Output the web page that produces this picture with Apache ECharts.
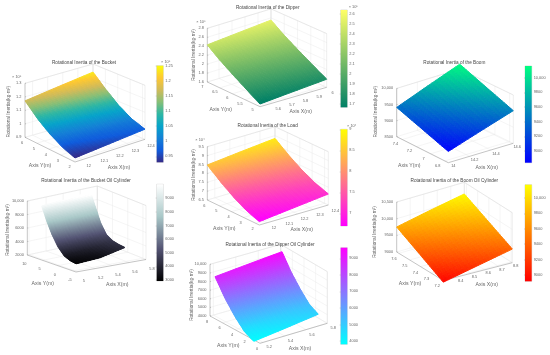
<!DOCTYPE html>
<html><head><meta charset="utf-8">
<style>html,body{margin:0;padding:0;background:#fff}#c{width:550px;height:355px;filter:blur(0.3px)}</style>
<script src="https://cdn.jsdelivr.net/npm/echarts@6/dist/echarts.min.js"></script>
</head><body><div id="c"></div>
<script>
// ---- values ----
const bucketX=[11.95,12.17,12.4], bucketY=[1.8,2.85,3.9,4.95,6];
const bucketZ=[[.93,.952,.975],[.964,.985,1.01],[1.015,1.04,1.07],[1.084,1.115,1.15],[1.17,1.205,1.24]];
const bucketXTicks=[12,12.1,12.2,12.3,12.4], bucketYTicks=[2,3,4,5,6], bucketZTicks=[.9,1,1.1,1.2,1.3];
const bucketBar=[.93,1.25], bucketBarTicks=[.95,1,1.05,1.1,1.15,1.2,1.25];

const bucketOilX=[5,5.28,5.57], bucketOilY=[-5.5,-3.5,-1.5,.5,2.5,4,5.84];
const bucketOilZ=[[3100,3350,4200],[3250,3500,4300],[3650,3850,4500],[4650,4800,5050],[6200,6350,6550],[7700,8000,8350],[9850,10100,10500]];
const bucketOilXTicks=[5,5.2,5.4,5.6,5.8], bucketOilYTicks=[-5,0,5,10], bucketOilZTicks=[2000,4000,6000,8000,10000];
const bucketOilBar=[2930,10020], bucketOilBarTicks=[3000,4000,5000,6000,7000,8000,9000];

const dipperX=[5.51,5.75,6], dipperY=[4.9,5.4,5.95,6.5,7];
const dipperZ=[[1.66,1.72,1.78],[1.83,1.89,1.95],[2.02,2.08,2.14],[2.22,2.28,2.34],[2.43,2.49,2.55]];
const dipperXTicks=[5.6,5.7,5.8,5.9,6], dipperYTicks=[5,5.5,6,6.5,7], dipperZTicks=[1.6,1.8,2,2.2,2.4,2.6,2.8];
const dipperBar=[1.667,2.64], dipperBarTicks=[1.7,1.8,1.9,2,2.1,2.2,2.3,2.4,2.5,2.6];

const loadX=[11.95,12.17,12.4], loadY=[1.7,2.8,3.85,4.9,6];
const loadZ=[[6.69,6.9,7.12],[6.98,7.19,7.4],[7.38,7.58,7.78],[7.88,8.07,8.26],[8.47,8.66,8.84]];
const loadXTicks=[12,12.1,12.2,12.3,12.4], loadYTicks=[2,3,4,5,6], loadZTicks=[6.5,7,7.5,8,8.5,9,9.5];
const loadBar=[6.7,9], loadBarTicks=[7,7.5,8,8.5,9];

const dipperOilX=[5.17,5.47,5.77], dipperOilY=[1,2.5,4,5.6,7.2];
const dipperOilZ=[[3830,4280,4770],[4380,4820,5300],[5500,5930,6400],[7000,7400,7800],[8880,9240,9570]];
const dipperOilXTicks=[5.2,5.4,5.6,5.8], dipperOilYTicks=[0,2,4,6,8], dipperOilZTicks=[4000,5000,6000,7000,8000,9000,10000];
const dipperOilBar=[3800,9640], dipperOilBarTicks=[4000,5000,6000,7000,8000,9000];

const boomX=[14,14.3,14.61], boomY=[6.75,7.115,7.48];
const boomZ=[[8850,9180,9514],[9130,9480,9830],[9410,9780,10150]];
const boomXTicks=[14,14.2,14.4,14.6], boomYTicks=[6.8,7,7.2,7.4], boomZTicks=[8500,9000,9500,10000];
const boomBar=[8840,10160], boomBarTicks=[9000,9200,9400,9600,9800,10000];

const boomOilX=[8.3,8.55,8.8], boomOilY=[7.19,7.405,7.62];
const boomOilZ=[[8950,9180,9410],[9350,9570,9780],[9750,9960,10150]];
const boomOilXTicks=[8.4,8.5,8.6,8.7,8.8], boomOilYTicks=[7.2,7.3,7.4,7.5,7.6], boomOilZTicks=[9000,9500,10000,10500];
const boomOilBar=[8920,10170], boomOilBarTicks=[9000,9200,9400,9600,9800,10000];

const parula=['#352a87','#0f5cdd','#1481d6','#06a4ca','#2eb7a4','#87bf77','#d1bb59','#fec832','#f9fb0e'];
const bone=['#000000','#545474','#a9c8c8','#ffffff'];
const summer=['#008066','#ffff66'], spring=['#ff00ff','#ffff00'], cool=['#00ffff','#ff00ff'];
const winter=['#0000ff','#00ff80'], autumn=['#ff0000','#ffff00'];

const yLabel='Rotational Inertia(kg·m²)', xName='Axis X(m)', yName='Axis Y(m)';

// ---- layout of each panel (floor corners on the page, z height in pixels, label places) ----
const panels=[
 {t:'Rotational Inertia of the Bucket',tp:[84,62.3],X:bucketX,Y:bucketY,Z:bucketZ,xt:bucketXTicks,yt:bucketYTicks,zt:bucketZTicks,bar:bucketBar,bt:bucketBarTicks,cm:parula,
  xl:[11.95,12.4],yl:[1.8,6],zl:[.9,1.3],f:[75,162],l:[25,137.3],r:[145,139.3],b:[93,118],h:54,xo:[6,6.5],yo:[-3,6],
  xn:[119,167.3],yn:[40,165.7],zn:[8.3,111.7],exp:'× 10⁵',ep:[16.7,77.3],bb:[156.7,65.7,6.6,96.6],bexp:[165.7,62.3]},
 {t:'Rotational Inertia of the Bucket Oil Cylinder',tp:[86,181],X:bucketOilX,Y:bucketOilY,Z:bucketOilZ,xt:bucketOilXTicks,yt:bucketOilYTicks,zt:bucketOilZTicks,bar:bucketOilBar,bt:bucketOilBarTicks,cm:bone,
  xl:[4.98,5.8],yl:[-6,10],zl:[2000,10000],f:[76,272],l:[27.3,255],r:[146,259.5],b:[97.3,240],h:54,xo:[6,9],yo:[-3,9],
  xn:[117.3,285],yn:[42.7,284],zn:[7.3,230],bb:[156.7,184.3,6.6,96.7]},
 {t:'Rotational Inertia of the Dipper',tp:[267.7,7.3],X:dipperX,Y:dipperY,Z:dipperZ,xt:dipperXTicks,yt:dipperYTicks,zt:dipperZTicks,bar:dipperBar,bt:dipperBarTicks,cm:summer,
  xl:[5.51,6],yl:[4.9,7],zl:[1.6,2.8],f:[260,106.7],l:[207.3,82],r:[326.7,87.3],b:[271,62.6],h:53.7,xo:[6,5.5],yo:[-5,4.5],
  xn:[300.7,111.7],yn:[220.7,110],zn:[193.3,55],exp:'× 10⁵',ep:[201,21.7],bb:[340.7,10,6.6,97.3],bexp:[353.3,6.7]},
 {t:'Rotational Inertia of the Load',tp:[267.7,125.7],X:loadX,Y:loadY,Z:loadZ,xt:loadXTicks,yt:loadYTicks,zt:loadZTicks,bar:loadBar,bt:loadBarTicks,cm:spring,
  xl:[11.95,12.4],yl:[1.7,6],zl:[6.5,9.5],f:[259.3,225],l:[207.3,200],r:[328.3,205],b:[275,180],h:53.3,xo:[7,5.5],yo:[-3,5.5],
  xn:[301.7,230],yn:[224.3,229],zn:[193.3,175],exp:'× 10⁴',ep:[200,140],bb:[340.7,129.3,6.6,96.7],bexp:[351.7,126]},
 {t:'Rotational Inertia of the Dipper Oil Cylinder',tp:[270,244.3],X:dipperOilX,Y:dipperOilY,Z:dipperOilZ,xt:dipperOilXTicks,yt:dipperOilYTicks,zt:dipperOilZTicks,bar:dipperOilBar,bt:dipperOilBarTicks,cm:cool,
  xl:[5.17,5.8],yl:[0,8],zl:[4000,10000],f:[260,343.3],l:[210,316],r:[327.3,323.3],b:[280.7,296],h:51.7,xo:[6,5],yo:[-3,5.5],
  xn:[300,348.3],yn:[228.3,345.7],zn:[191.7,295],bb:[340.7,247.7,6.6,96.6]},
 {t:'Rotational Inertia of the Boom',tp:[454.3,62.3],X:boomX,Y:boomY,Z:boomZ,xt:boomXTicks,yt:boomYTicks,zt:boomZTicks,bar:boomBar,bt:boomBarTicks,cm:winter,
  xl:[14,14.61],yl:[6.75,7.48],zl:[8500,10000],f:[448.3,162.7],l:[396.7,136.7],r:[513.3,143.3],b:[459.7,117.3],h:48.3,xo:[5,3.5],yo:[-7,4.7],
  xn:[486.7,167.3],yn:[409.3,165.7],zn:[375.7,111.7],bb:[525,66,6.7,96.7]},
 {t:'Rotational Inertia of the Boom Oil Cylinder',tp:[454.3,181],X:boomOilX,Y:boomOilY,Z:boomOilZ,xt:boomOilXTicks,yt:boomOilYTicks,zt:boomOilZTicks,bar:boomOilBar,bt:boomOilBarTicks,cm:autumn,
  xl:[8.3,8.8],yl:[7.19,7.62],zl:[9000,10500],f:[443.3,280.5],l:[396.7,252],r:[512.3,262.7],b:[464.3,232.3],h:50,xo:[3.5,3.5],yo:[-5,6],
  xn:[486.7,285],yn:[410,284],zn:[375,232],bb:[525,184.7,6.7,96.6]}
];

const hex=c=>[parseInt(c.slice(1,3),16),parseInt(c.slice(3,5),16),parseInt(c.slice(5,7),16)];
function colorAt(cm,t){t=Math.max(0,Math.min(1,t));const s=t*(cm.length-1),i=Math.min(cm.length-2,Math.floor(s)),f=s-i,a=hex(cm[i]),b=hex(cm[i+1]);
 return 'rgb('+a.map((v,k)=>Math.round(v+(b[k]-v)*f)).join(',')+')';}
function proj(p,x,y,z){
 const u=(x-p.xl[0])/(p.xl[1]-p.xl[0]),v=(y-p.yl[0])/(p.yl[1]-p.yl[0]);
 const q=k=>p.f[k]*(1-u)*(1-v)+p.r[k]*u*(1-v)+p.l[k]*(1-u)*v+p.b[k]*u*v;
 return [q(0),q(1)-(z-p.zl[0])/(p.zl[1]-p.zl[0])*p.h];
}
const TXT='#666',FONT='"Liberation Sans",Arial,sans-serif';
const fmt=v=>Math.abs(v)>=10000?String(v).replace(/(\d)(\d{3})$/,'$1,$2'):String(v);

function frameItem(p){return function(params,api){
 const c=a=>api.coord(a),ch=[];
 const seg=(a,b,col,w)=>{const A=c(a),B=c(b);ch.push({type:'line',shape:{x1:A[0],y1:A[1],x2:B[0],y2:B[1]},style:{stroke:col,lineWidth:w}});};
 const txt=(s,a,o)=>{const A=c(a);ch.push({type:'text',x:A[0],y:A[1],rotation:(o&&o.rot)||0,style:{text:s,fontSize:(o&&o.fs)||3.9,fontFamily:FONT,fill:(o&&o.col)||TXT,align:(o&&o.al)||'center',verticalAlign:'middle'}});};
 const [x0,x1]=p.xl,[y0,y1]=p.yl,[z0,z1]=p.zl,G='#e6e6e6',E='#d4d4d4',A='#8a8a8a';
 const P=(x,y,z)=>proj(p,x,y,z);
 p.xt.forEach(x=>{seg(P(x,y0,z0),P(x,y1,z0),G,.4);seg(P(x,y1,z0),P(x,y1,z1),G,.4);});
 p.yt.forEach(y=>{seg(P(x0,y,z0),P(x1,y,z0),G,.4);seg(P(x1,y,z0),P(x1,y,z1),G,.4);});
 p.zt.forEach(z=>{seg(P(x0,y1,z),P(x1,y1,z),G,.4);seg(P(x1,y1,z),P(x1,y0,z),G,.4);});
 seg(P(x0,y1,z1),P(x1,y1,z1),E,.4);seg(P(x1,y1,z1),P(x1,y0,z1),E,.4);seg(P(x1,y1,z0),P(x1,y1,z1),E,.4);seg(P(x1,y0,z0),P(x1,y0,z1),E,.4);
 seg(P(x0,y1,z0),P(x0,y1,z1),A,.5);seg(P(x0,y0,z0),P(x1,y0,z0),A,.5);seg(P(x0,y0,z0),P(x0,y1,z0),A,.5);
 p.xt.forEach(x=>{const a=P(x,y0,z0);txt(String(x),[a[0]+p.xo[0],a[1]+p.xo[1]]);});
 p.yt.forEach(y=>{const a=P(x0,y,z0);txt(String(y),[a[0]+p.yo[0],a[1]+p.yo[1]]);});
 p.zt.forEach(z=>{const a=P(x0,y1,z);seg(a,[a[0]+1,a[1]],A,.4);txt(fmt(z),[a[0]-3.5,a[1]],{al:'right'});});
 txt(xName,p.xn,{fs:5.2});txt(yName,p.yn,{fs:5.2});
 txt(yLabel,p.zn,{fs:4.8,rot:Math.PI/2});
 if(p.exp)txt(p.exp,p.ep,{fs:3.9});
 if(p.bexp)txt(p.exp,p.bexp,{fs:3.9});
 return {type:'group',children:ch};
};}
function surfItem(p){return function(params,api){
 const j=api.value(0),i=api.value(1),ch=[],NX=8,NY=12,Z=p.Z,X=p.X,Y=p.Y;
 const val=(s,t)=>Z[j][i]*(1-s)*(1-t)+Z[j][i+1]*s*(1-t)+Z[j+1][i]*(1-s)*t+Z[j+1][i+1]*s*t;
 const pt=(s,t)=>api.coord(proj(p,X[i]+(X[i+1]-X[i])*s,Y[j]+(Y[j+1]-Y[j])*t,val(s,t)));
 for(let b=NY-1;b>=0;b--)for(let a=NX-1;a>=0;a--){
  const s0=a/NX,s1=(a+1)/NX,t0=b/NY,t1=(b+1)/NY,col=colorAt(p.cm,(val((s0+s1)/2,(t0+t1)/2)-p.bar[0])/(p.bar[1]-p.bar[0]));
  ch.push({type:'polygon',shape:{points:[pt(s0,t0),pt(s1,t0),pt(s1,t1),pt(s0,t1)]},style:{fill:col,stroke:col,lineWidth:1,lineJoin:'round'}});
 }
 return {type:'group',children:ch};
};}
function barItem(p){return function(params,api){
 const a=api.coord([0,p.bar[1]]),b=api.coord([1,p.bar[0]]);
 return {type:'rect',shape:{x:a[0],y:a[1],width:b[0]-a[0],height:b[1]-a[1]},style:{fill:{type:'linear',x:0,y:1,x2:0,y2:0,colorStops:p.cm.map((c,k)=>({offset:k/(p.cm.length-1),color:c}))}}};
};}

const grid=[{left:0,top:0,width:550,height:355}],xAxis=[{gridIndex:0,type:'value',min:0,max:550,show:false}],yAxis=[{gridIndex:0,type:'value',min:0,max:355,inverse:true,show:false}],series=[];
panels.forEach((p,n)=>{
 const g=n+1;
 grid.push({left:p.bb[0],top:p.bb[1],width:p.bb[2],height:p.bb[3],show:true,borderColor:'#aaa',borderWidth:.4,backgroundColor:'transparent'});
 xAxis.push({gridIndex:g,type:'value',min:0,max:1,show:false});
 yAxis.push({gridIndex:g,type:'value',position:'right',min:p.bar[0],max:p.bar[1],
  axisLine:{show:false},splitLine:{show:false},
  axisTick:{show:true,inside:true,length:1,customValues:p.bt,lineStyle:{color:'#666',width:.3}},
  axisLabel:{show:true,customValues:p.bt,margin:2,fontSize:3.9,color:TXT,fontFamily:FONT,hideOverlap:false,formatter:fmt}});
 series.push({type:'custom',coordinateSystem:'cartesian2d',xAxisIndex:0,yAxisIndex:0,clip:false,silent:true,data:[[0]],renderItem:frameItem(p),z:2});
 const cells=[];
 for(let j=p.Y.length-2;j>=0;j--)for(let i=p.X.length-2;i>=0;i--)cells.push([j,i]);
 series.push({type:'custom',coordinateSystem:'cartesian2d',xAxisIndex:0,yAxisIndex:0,clip:false,silent:true,data:cells,encode:{x:[],y:[]},renderItem:surfItem(p),z:3});
 series.push({type:'custom',coordinateSystem:'cartesian2d',xAxisIndex:g,yAxisIndex:g,clip:false,silent:true,data:[[0]],renderItem:barItem(p),z:3});
});
const title=panels.map(p=>({text:p.t,left:p.tp[0],top:p.tp[1]-2.5,textAlign:'center',padding:0,textStyle:{fontSize:4.7,fontWeight:'normal',color:'#444',fontFamily:FONT}}));
const chart=echarts.init(document.getElementById('c'),null,{renderer:'canvas',width:550,height:355});
chart.setOption({animation:false,backgroundColor:'#fff',title,grid,xAxis,yAxis,series});
</script></body></html>
